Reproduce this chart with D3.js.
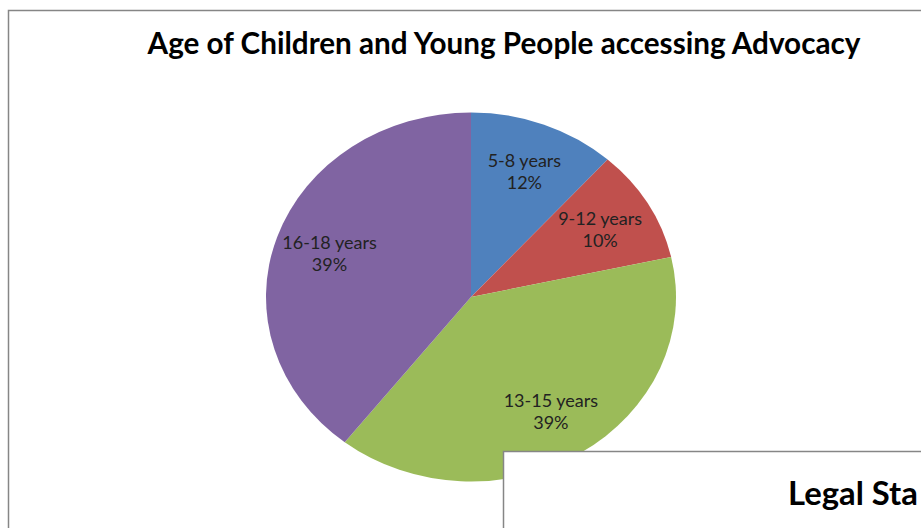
<!DOCTYPE html>
<html>
<head>
<meta charset="utf-8">
<script src="https://cdn.jsdelivr.net/npm/d3@7"></script>
<style>
  body { margin: 0; background: #fff; }
  svg { display: block; }
</style>
</head>
<body>
<div id="chart"></div>
<script>
// chart data
var ageGroups = ["5-8 years", "9-12 years", "13-15 years", "16-18 years"];
var shares = [11.6, 9.9, 39.0, 39.4];
var sliceColors = ["#4F81BD", "#C0504D", "#9BBB59", "#8064A2"];
var chartTitle = "Age of Children and Young People accessing Advocacy";
var nextTitle = "Legal Sta";

var svgWidth = 921;
var svgHeight = 528;

var svg = d3.select("#chart")
  .append("svg")
  .attr("width", svgWidth)
  .attr("height", svgHeight);

// outer chart frame (runs off the page to the right and bottom)
svg.append("rect")
  .attr("x", 8.5)
  .attr("y", 10.5)
  .attr("width", 1000)
  .attr("height", 600)
  .attr("fill", "#fff")
  .attr("stroke", "#868686")
  .attr("stroke-width", 1.5);

// title, sized to the width it has in the picture
var title = svg.append("text")
  .attr("x", 504)
  .attr("y", 54)
  .attr("text-anchor", "middle")
  .attr("font-family", "Lato, 'Open Sans', sans-serif")
  .attr("font-weight", "bold")
  .attr("font-size", 24)
  .attr("fill", "#000")
  .text(chartTitle);
var tw = title.node().getComputedTextLength();
title.attr("font-size", 24 * 713 / tw);

// pie (drawn as a circle and stretched into the ellipse of the picture)
var cx = 471, cy = 297;
var rx = 205, ry = 184.5;

var pie = d3.pie().sort(null).value(d => d);
var arcs = pie(shares);
var total = d3.sum(shares);

var arc = d3.arc().innerRadius(0).outerRadius(ry);

var pieGroup = svg.append("g")
  .attr("transform", `translate(${cx}, ${cy}) scale(${rx / ry}, 1)`);

pieGroup.selectAll("path")
  .data(arcs)
  .enter()
  .append("path")
  .attr("d", arc)
  .attr("fill", (d, i) => sliceColors[i]);

// data labels
var fmt = d3.format(".0%");
var labelR = 0.73;
var labels = svg.append("g")
  .attr("font-family", "Lato, 'Open Sans', sans-serif")
  .attr("font-size", 18)
  .attr("fill", "#222")
  .attr("text-anchor", "middle");

arcs.forEach(function(d, i) {
  var a = (d.startAngle + d.endAngle) / 2;
  var x = cx + Math.sin(a) * rx * labelR;
  var y = cy - Math.cos(a) * ry * labelR;
  var t = labels.append("text")
    .attr("x", x)
    .attr("y", y - 4);
  t.append("tspan").attr("x", x).text(ageGroups[i]);
  t.append("tspan").attr("x", x).attr("dy", 22).text(fmt(d.value / total));
});

// the next chart overlapping from the bottom right
svg.append("rect")
  .attr("x", 503.5)
  .attr("y", 451.5)
  .attr("width", 600)
  .attr("height", 200)
  .attr("fill", "#fff")
  .attr("stroke", "#868686")
  .attr("stroke-width", 1.5);

var next = svg.append("text")
  .attr("x", 788)
  .attr("y", 505)
  .attr("font-family", "Lato, 'Open Sans', sans-serif")
  .attr("font-weight", "bold")
  .attr("font-size", 33)
  .attr("fill", "#000")
  .text(nextTitle);
var nw = next.node().getComputedTextLength();
next.attr("font-size", 33 * 130 / nw);
</script>
</body>
</html>
